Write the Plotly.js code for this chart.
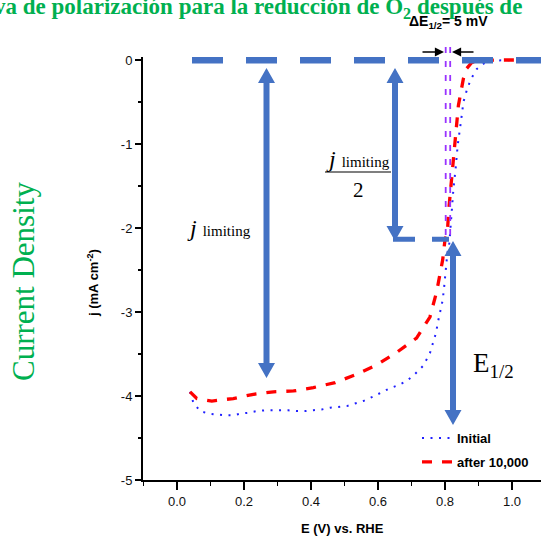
<!DOCTYPE html>
<html>
<head>
<meta charset="utf-8">
<script src="https://cdn.plot.ly/plotly-3.0.1.min.js"></script>
<style>html,body{margin:0;padding:0;background:#fff;}#chart{width:541px;height:541px;}</style>
</head>
<body>
<div id="chart"></div>
<script>
// ---- data ----
const seriesNames = ['Initial', 'after 10,000'];
const E_initial = [0.039, 0.049, 0.069, 0.094, 0.118, 0.143, 0.168, 0.188, 0.213, 0.238, 0.263, 0.288, 0.307, 0.332, 0.357, 0.382, 0.407, 0.432, 0.457, 0.482, 0.507, 0.531, 0.556, 0.584, 0.611, 0.634, 0.661, 0.686, 0.710, 0.735, 0.755, 0.765, 0.773, 0.780, 0.787, 0.793, 0.797, 0.800, 0.803, 0.807, 0.813, 0.820, 0.825, 0.832, 0.838, 0.847, 0.855, 0.865, 0.877, 0.895, 0.920, 0.950, 1.090];
const j_initial = [-3.95, -4.08, -4.18, -4.21, -4.22, -4.23, -4.23, -4.21, -4.20, -4.18, -4.17, -4.17, -4.17, -4.17, -4.18, -4.18, -4.17, -4.16, -4.14, -4.13, -4.12, -4.09, -4.06, -4.01, -3.96, -3.91, -3.87, -3.82, -3.74, -3.64, -3.49, -3.37, -3.25, -3.10, -2.98, -2.86, -2.72, -2.60, -2.46, -2.30, -2.18, -1.80, -1.54, -1.28, -1.01, -0.75, -0.50, -0.36, -0.23, -0.107, -0.03, -0.005, 0];
const E_after = [0.039, 0.059, 0.104, 0.168, 0.228, 0.288, 0.348, 0.407, 0.472, 0.531, 0.596, 0.656, 0.715, 0.755, 0.775, 0.785, 0.793, 0.800, 0.807, 0.811, 0.818, 0.825, 0.832, 0.840, 0.855, 0.865, 0.880, 0.900, 0.950, 1.090];
const j_after = [-3.95, -4.03, -4.06, -4.03, -3.98, -3.95, -3.94, -3.90, -3.84, -3.75, -3.63, -3.48, -3.31, -3.06, -2.76, -2.54, -2.38, -2.14, -2.06, -1.79, -1.47, -1.17, -0.85, -0.54, -0.22, -0.10, -0.03, -0.01, 0, 0];
const xTickVals = [0, 0.2, 0.4, 0.6, 0.8, 1.0];
const xTickText = ['0.0', '0.2', '0.4', '0.6', '0.8', '1.0'];
const yTickVals = [0, -1, -2, -3, -4, -5];
const yTickText = ['0', '-1', '-2', '-3', '-4', '-5'];

// ---- geometry helpers (pixel -> coordinates) ----
const L = 143, T = 57, W = 398, H = 423;
const X0 = 177, XS = 335, Y0 = 60, YS = 84;
const dx = p => (p - X0) / XS;
const dy = p => -(p - Y0) / YS;
const px = p => (p - L) / W;
const py = p => (T + H - p) / H;

const BLUE = '#4472C4';
const GREEN = '#00B050';

function dblArrow(X, Tp, Bp, hw, hl, sw, topHead, botHead) {
  const pts = [];
  if (topHead) { pts.push([X, Tp], [X + hw, Tp + hl], [X + sw, Tp + hl]); } else { pts.push([X + sw, Tp]); }
  if (botHead) { pts.push([X + sw, Bp - hl], [X + hw, Bp - hl], [X, Bp], [X - hw, Bp - hl], [X - sw, Bp - hl]); } else { pts.push([X + sw, Bp], [X - sw, Bp]); }
  if (topHead) { pts.push([X - sw, Tp + hl], [X - hw, Tp + hl]); } else { pts.push([X - sw, Tp]); }
  return 'M' + pts.map(p => dx(p[0]).toFixed(5) + ',' + dy(p[1]).toFixed(5)).join(' L') + ' Z';
}

const traces = [
  { x: E_initial, y: j_initial, name: '<b>' + seriesNames[0] + '</b>', mode: 'lines', legendgroup: 'a',
    line: { color: '#2020ff', width: 2, dash: '2px,6.5px' } },
  { x: E_after, y: j_after, name: '<b>' + seriesNames[1] + '</b>', mode: 'lines', legendgroup: 'b',
    line: { color: '#ff0000', width: 3.3, dash: '10px,10px' } }
];

const shapes = [
  // big dashed line at j = 0
  { type: 'line', xref: 'x', yref: 'y', x0: dx(192), x1: 1.2, y0: 0, y1: 0, layer: 'above',
    line: { color: BLUE, width: 7, dash: '31px,23px' } },
  // purple dashed verticals
  { type: 'line', xref: 'x', yref: 'paper', x0: dx(445.7), x1: dx(445.7), y0: py(47), y1: py(241), layer: 'above',
    line: { color: '#9933ff', width: 1.8, dash: '6px,8px' } },
  { type: 'line', xref: 'x', yref: 'paper', x0: dx(450.2), x1: dx(450.2), y0: py(47), y1: py(241), layer: 'above',
    line: { color: '#9933ff', width: 1.8, dash: '6px,8px' } },
  // arrows
  { type: 'path', xref: 'x', yref: 'y', path: dblArrow(266.5, 68, 378, 8.5, 15, 3, true, true), fillcolor: BLUE, line: { width: 0 }, layer: 'above' },
  { type: 'path', xref: 'x', yref: 'y', path: dblArrow(395, 68, 241, 8.5, 15, 3, true, true), fillcolor: BLUE, line: { width: 0 }, layer: 'above' },
  { type: 'path', xref: 'x', yref: 'y', path: dblArrow(453, 241, 425, 8.5, 15, 3, true, true), fillcolor: BLUE, line: { width: 0 }, layer: 'above' },
  // horizontal dashed at j_lim/2
  { type: 'line', xref: 'x', yref: 'y', x0: dx(393), x1: dx(449), y0: dy(239.2), y1: dy(239.2), layer: 'above',
    line: { color: BLUE, width: 5, dash: '22px,17px' } },
  // fraction bar
  { type: 'line', xref: 'paper', yref: 'paper', x0: px(325), x1: px(391), y0: py(172), y1: py(172),
    line: { color: 'black', width: 1.2 } }
];

const serif = 'Liberation Serif, DejaVu Serif, serif';
const sans = 'Liberation Sans, Arial, sans-serif';
const ann = (x, y, text, font, extra) => Object.assign({ xref: 'paper', yref: 'paper', x: px(x), y: py(y), text: text, showarrow: false, font: font, xanchor: 'center', yanchor: 'middle' }, extra || {});

const annotations = [
  ann(258, 7.5, '<b>va de polarización para la reducción de O<sub>2</sub> después de</b>', { family: serif, size: 23, color: GREEN }),
  ann(448, 22, '<b>ΔE<sub>1/2</sub>= 5 mV</b>', { family: sans, size: 14, color: 'black' }),
  ann(23, 282, 'Current Density', { family: serif, size: 31, color: GREEN }, { textangle: -90 }),
  ann(93, 283, '<b>j (mA cm<sup>-2</sup>)</b>', { family: sans, size: 13, color: 'black' }, { textangle: -90 }),
  ann(342, 528, '<b>E (V) vs. RHE</b>', { family: sans, size: 13, color: 'black' }),
  ann(219, 228, '<i>j</i> <span style="font-size:15px">limiting</span>', { family: serif, size: 24, color: 'black' }),
  ann(358, 159, '<i>j</i> <span style="font-size:15px">limiting</span>', { family: serif, size: 24, color: 'black' }),
  ann(358, 190, '2', { family: serif, size: 21, color: 'black' }),
  ann(493, 365, 'E<sub>1/2</sub>', { family: serif, size: 27, color: 'black' }),
  // small black arrows for ΔE
  { xref: 'paper', yref: 'paper', x: px(444), y: py(52), ax: -23, ay: 0, text: '', showarrow: true, arrowhead: 2, arrowsize: 1.3, arrowwidth: 1.4, arrowcolor: 'black' },
  { xref: 'paper', yref: 'paper', x: px(452), y: py(52), ax: 23, ay: 0, text: '', showarrow: true, arrowhead: 2, arrowsize: 1.3, arrowwidth: 1.4, arrowcolor: 'black' }
];

const axisCommon = {
  showline: true, linecolor: 'black', linewidth: 2, mirror: false, showgrid: false, zeroline: false,
  ticks: 'outside', tickcolor: 'black', tickwidth: 1.5,
  tickfont: { family: sans, size: 13, color: '#111' }, tickmode: 'array'
};

const layout = {
  width: 541, height: 541,
  margin: { l: L, r: 541 - L - W, t: T, b: 541 - T - H, pad: 0 },
  paper_bgcolor: 'white', plot_bgcolor: 'white',
  showlegend: true,
  legend: { x: px(417), y: py(423), xanchor: 'left', yanchor: 'top', bgcolor: 'rgba(0,0,0,0)',
    font: { family: sans, size: 13, color: 'black' }, tracegroupgap: 4, itemwidth: 30 },
  xaxis: Object.assign({}, axisCommon, { range: [dx(L), dx(L + W)], tickvals: xTickVals, ticktext: xTickText, ticklen: 8,
    minor: { dtick: 0.1, tick0: 0, ticks: 'outside', ticklen: 4, tickwidth: 1.5, tickcolor: 'black', showgrid: false } }),
  yaxis: Object.assign({}, axisCommon, { range: [-5, dy(T)], tickvals: yTickVals, ticktext: yTickText, ticklen: 6,
    minor: { dtick: 0.5, tick0: 0, ticks: 'outside', ticklen: 3, tickwidth: 1.5, tickcolor: 'black', showgrid: false } }),
  shapes: shapes,
  annotations: annotations
};

Plotly.newPlot('chart', traces, layout, { staticPlot: true, displayModeBar: false });
</script>
</body>
</html>
